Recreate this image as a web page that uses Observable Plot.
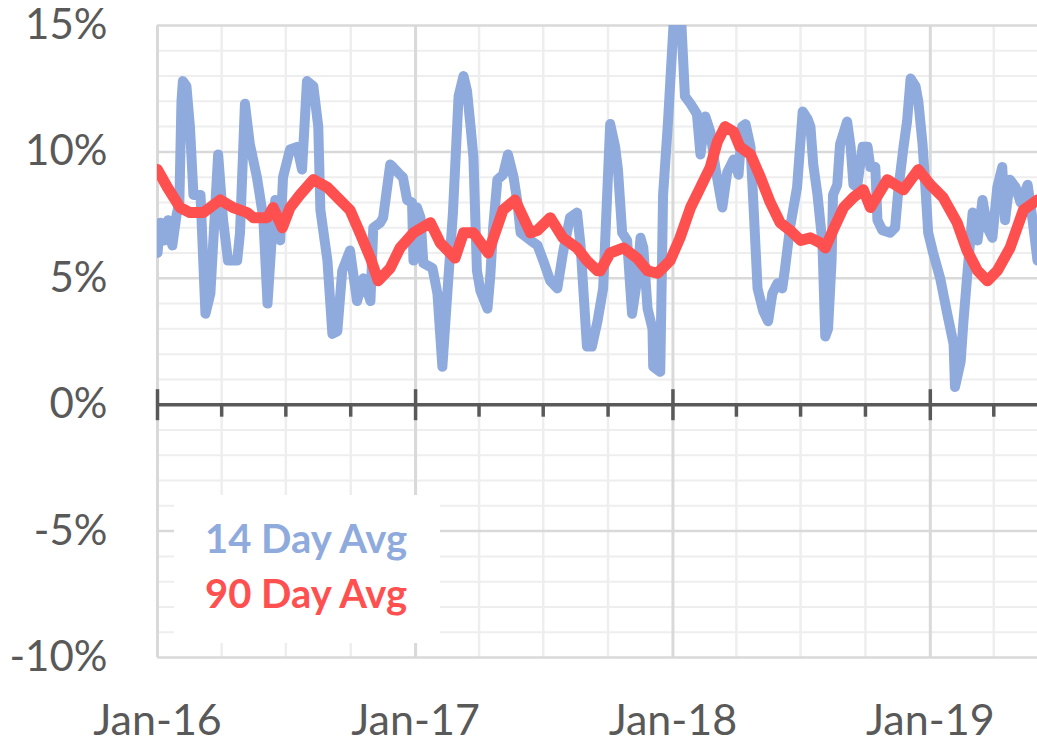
<!DOCTYPE html>
<html><head><meta charset="utf-8">
<script src="https://cdn.jsdelivr.net/npm/d3@7"></script>
<script src="https://cdn.jsdelivr.net/npm/@observablehq/plot@0.6"></script>
<style>
html,body{margin:0;padding:0;background:#fff;overflow:hidden;}
#chart{position:relative;width:1037px;height:744px;}
</style></head><body><div id="chart"></div>
<script>
// 14-day average (%)
const avg14 = [
["2016-01-01",6.0],["2016-01-05",7.2],["2016-01-11",6.5],["2016-01-16",7.3],["2016-01-22",6.3],["2016-01-28",7.5],
["2016-02-01",8.0],["2016-02-04",12.0],["2016-02-06",12.8],["2016-02-11",12.6],["2016-02-16",11.0],["2016-02-21",8.3],
["2016-03-02",8.3],["2016-03-09",3.6],["2016-03-16",4.4],["2016-03-27",9.9],["2016-04-03",7.3],["2016-04-10",5.7],
["2016-04-23",5.7],["2016-04-27",6.8],["2016-05-04",11.9],["2016-05-11",10.3],["2016-05-21",9.0],["2016-05-30",7.4],
["2016-06-05",4.0],["2016-06-12",7.0],["2016-06-16",8.1],["2016-06-23",6.5],["2016-06-27",9.0],["2016-07-07",10.1],
["2016-07-17",10.2],["2016-07-24",9.3],["2016-07-31",12.8],["2016-08-09",12.6],["2016-08-16",11.0],["2016-08-19",7.7],
["2016-08-29",5.7],["2016-09-05",2.8],["2016-09-12",2.9],["2016-09-19",5.3],["2016-09-30",6.1],["2016-10-10",4.1],
["2016-10-19",5.0],["2016-10-29",4.1],["2016-11-02",7.0],["2016-11-12",7.2],["2016-11-16",7.4],["2016-11-26",9.5],
["2016-11-30",9.4],["2016-12-10",9.1],["2016-12-14",9.0],["2016-12-20",8.1],["2016-12-27",8.0],["2016-12-29",5.7],
["2017-01-03",7.8],["2017-01-08",7.4],["2017-01-12",5.6],["2017-01-25",5.4],["2017-02-01",4.4],["2017-02-08",1.5],
["2017-02-15",4.4],["2017-02-23",7.6],["2017-03-03",12.2],["2017-03-10",13.0],["2017-03-15",12.4],["2017-03-20",11.0],
["2017-03-24",9.8],["2017-03-29",5.3],["2017-04-03",4.5],["2017-04-13",3.8],["2017-04-17",5.1],["2017-04-21",7.0],
["2017-04-27",8.9],["2017-05-05",9.1],["2017-05-12",9.9],["2017-05-20",9.0],["2017-05-25",8.1],["2017-05-30",6.8],
["2017-06-13",6.5],["2017-06-23",6.3],["2017-07-01",5.7],["2017-07-11",4.9],["2017-07-21",4.6],["2017-07-29",6.0],
["2017-08-08",7.4],["2017-08-18",7.6],["2017-08-23",6.3],["2017-09-01",2.3],["2017-09-08",2.3],["2017-09-16",3.3],
["2017-09-24",4.6],["2017-10-04",11.1],["2017-10-11",10.2],["2017-10-15",9.3],["2017-10-21",6.8],["2017-10-28",6.5],
["2017-11-04",3.6],["2017-11-11",4.9],["2017-11-16",6.6],["2017-11-20",6.2],["2017-11-26",3.8],["2017-12-03",3.0],
["2017-12-04",1.5],["2017-12-14",1.3],["2017-12-18",8.3],["2017-12-25",11.2],["2018-01-03",15.6],["2018-01-12",15.6],
["2018-01-18",12.2],["2018-01-26",11.9],["2018-02-04",11.5],["2018-02-09",9.9],["2018-02-16",11.4],["2018-02-23",10.8],
["2018-03-02",9.4],["2018-03-12",7.8],["2018-03-19",9.2],["2018-03-28",9.7],["2018-04-04",9.1],["2018-04-09",11.0],
["2018-04-14",11.1],["2018-04-21",10.2],["2018-04-25",8.0],["2018-05-01",4.6],["2018-05-09",3.7],["2018-05-16",3.3],
["2018-05-22",4.4],["2018-05-29",4.8],["2018-06-05",4.6],["2018-06-09",5.4],["2018-06-16",7.0],["2018-06-26",8.6],
["2018-07-04",11.6],["2018-07-11",11.3],["2018-07-15",11.0],["2018-07-19",9.5],["2018-07-25",8.3],["2018-08-01",6.4],
["2018-08-05",2.7],["2018-08-09",3.0],["2018-08-14",5.7],["2018-08-16",8.3],["2018-08-22",8.7],["2018-08-26",10.3],
["2018-09-05",11.2],["2018-09-10",10.2],["2018-09-14",8.7],["2018-09-19",8.6],["2018-09-27",10.2],["2018-10-04",10.2],
["2018-10-08",9.4],["2018-10-15",9.4],["2018-10-18",7.3],["2018-10-25",6.9],["2018-11-05",6.8],["2018-11-12",7.0],
["2018-11-17",8.6],["2018-11-24",10.2],["2018-11-29",11.2],["2018-12-04",12.9],["2018-12-11",12.6],["2018-12-15",12.0],
["2018-12-21",10.3],["2018-12-25",8.6],["2018-12-29",6.8],["2019-01-05",6.0],["2019-01-15",5.0],["2019-01-25",3.6],
["2019-02-03",2.4],["2019-02-05",0.7],["2019-02-13",1.7],["2019-02-17",3.3],["2019-02-22",5.0],["2019-03-02",7.6],
["2019-03-09",6.5],["2019-03-16",8.1],["2019-03-23",7.0],["2019-03-30",6.6],["2019-04-06",8.6],["2019-04-13",9.4],
["2019-04-17",7.3],["2019-04-24",8.9],["2019-05-02",8.6],["2019-05-09",8.0],["2019-05-19",8.7],["2019-05-26",7.3],
["2019-06-02",5.7]
];
// 90-day average (%)
const avg90 = [
["2016-01-01",9.3],["2016-01-15",8.6],["2016-02-02",7.8],["2016-02-16",7.6],["2016-03-06",7.6],["2016-03-30",8.1],
["2016-04-17",7.8],["2016-05-07",7.6],["2016-05-16",7.4],["2016-06-05",7.4],["2016-06-13",7.8],["2016-06-26",7.0],
["2016-07-07",7.8],["2016-07-21",8.3],["2016-08-09",8.9],["2016-08-29",8.6],["2016-09-12",8.2],["2016-09-30",7.7],
["2016-10-14",6.8],["2016-10-29",5.8],["2016-11-09",4.9],["2016-11-26",5.4],["2016-12-10",6.2],["2016-12-29",6.8],
["2017-01-22",7.2],["2017-02-05",6.4],["2017-02-26",5.8],["2017-03-10",6.8],["2017-03-24",6.8],["2017-04-14",6.0],
["2017-05-05",7.7],["2017-05-22",8.1],["2017-06-13",6.8],["2017-06-23",6.9],["2017-07-11",7.4],["2017-07-29",6.6],
["2017-08-18",6.2],["2017-09-01",5.7],["2017-09-16",5.3],["2017-09-20",5.3],["2017-10-04",6.0],["2017-10-23",6.2],
["2017-11-11",5.8],["2017-11-26",5.3],["2017-12-10",5.2],["2017-12-28",5.7],["2018-01-11",6.6],["2018-01-26",7.8],
["2018-02-09",8.6],["2018-02-23",9.4],["2018-03-05",10.4],["2018-03-16",11.0],["2018-03-28",10.8],["2018-04-06",10.2],
["2018-04-21",9.9],["2018-05-05",9.0],["2018-05-19",8.0],["2018-06-02",7.2],["2018-06-16",6.9],["2018-07-01",6.5],
["2018-07-15",6.6],["2018-07-29",6.4],["2018-08-05",6.2],["2018-08-16",6.9],["2018-08-31",7.8],["2018-09-14",8.2],
["2018-09-28",8.5],["2018-10-08",7.8],["2018-11-01",8.9],["2018-11-24",8.5],["2018-12-15",9.3],["2019-01-01",8.7],
["2019-01-19",8.2],["2019-02-08",7.2],["2019-02-22",6.1],["2019-03-09",5.3],["2019-03-23",4.9],["2019-04-06",5.3],
["2019-04-24",6.2],["2019-05-13",7.7],["2019-06-02",8.1]
];
const yTicks = [-10, -5, 0, 5, 10, 15];
const yearStarts = ["2016-01-01", "2017-01-01", "2018-01-01", "2019-01-01"];
const xRange = ["2016-01-01", "2019-06-02"];
const legendLabels = ["14 Day Avg", "90 Day Avg"];
const colors = ["#8FAADC", "#FF5050"];

const parse = d3.utcParse("%Y-%m-%d");
const toRows = arr => arr.map(([d, v]) => ({date: parse(d), value: v}));
const s14 = toRows(avg14), s90 = toRows(avg90);
const xDomain = xRange.map(parse);
const years = yearStarts.map(parse);
const quarters = d3.utcMonth.every(3).range(xDomain[0], xDomain[1]).filter(d => d.getUTCMonth() !== 0);
const minorY = d3.range(-10, 16).filter(v => v % 5 !== 0);
const H = 744, mTop = 25, mBottom = 87;
const pxPerPct = (H - mTop - mBottom) / 25;

const chart = Plot.plot({
  width: 1037, height: H,
  marginTop: mTop, marginBottom: mBottom, marginLeft: 157, marginRight: 0,
  style: {fontFamily: "Lato, sans-serif", color: "#595959", background: "transparent", overflow: "visible"},
  x: {type: "utc", domain: xDomain, label: null},
  y: {domain: [-10, 15], label: null},
  marks: [
    Plot.ruleY(minorY, {stroke: "#eeeeee", strokeWidth: 2}),
    Plot.ruleX(quarters, {stroke: "#eeeeee", strokeWidth: 2.5}),
    Plot.ruleY(yTicks, {stroke: "#d9d9d9", strokeWidth: 2.5}),
    Plot.ruleX(years, {stroke: "#d9d9d9", strokeWidth: 3}),
    Plot.axisY({ticks: yTicks, tickFormat: d => `${d}%`, tickSize: 0, tickPadding: 50, fontSize: 42, label: null}),
    Plot.axisX({ticks: years, tickFormat: d3.utcFormat("%b-%y"), tickSize: 0, tickPadding: 47, fontSize: 43, label: null}),
    Plot.ruleY([0], {stroke: "#595959", strokeWidth: 3.5}),
    Plot.ruleX(years, {y1: -16 / pxPerPct, y2: 15 / pxPerPct, stroke: "#595959", strokeWidth: 3.5}),
    Plot.ruleX(quarters, {y1: -12.5 / pxPerPct, y2: 0, stroke: "#595959", strokeWidth: 3.5}),
    Plot.line(s14, {x: "date", y: "value", stroke: colors[0], strokeWidth: 10, strokeLinejoin: "round", strokeLinecap: "round", clip: true}),
    Plot.line(s90, {x: "date", y: "value", stroke: colors[1], strokeWidth: 11, strokeLinejoin: "round", strokeLinecap: "round", clip: true})
  ]
});
document.getElementById("chart").appendChild(chart);

// legend box (inside plot area, lower left)
const svg = d3.select(chart);
const lg = svg.append("g").attr("text-anchor", "start");
lg.append("rect").attr("x", 174).attr("y", 495).attr("width", 266).attr("height", 148).attr("fill", "white");
legendLabels.forEach((t, i) => {
  lg.append("text").attr("x", 205).attr("y", 553 + i * 55).attr("text-anchor", "start")
    .attr("fill", colors[i]).attr("font-weight", "bold").attr("font-size", 40)
    .attr("font-family", "Lato, sans-serif").text(t);
});
</script></body></html>
